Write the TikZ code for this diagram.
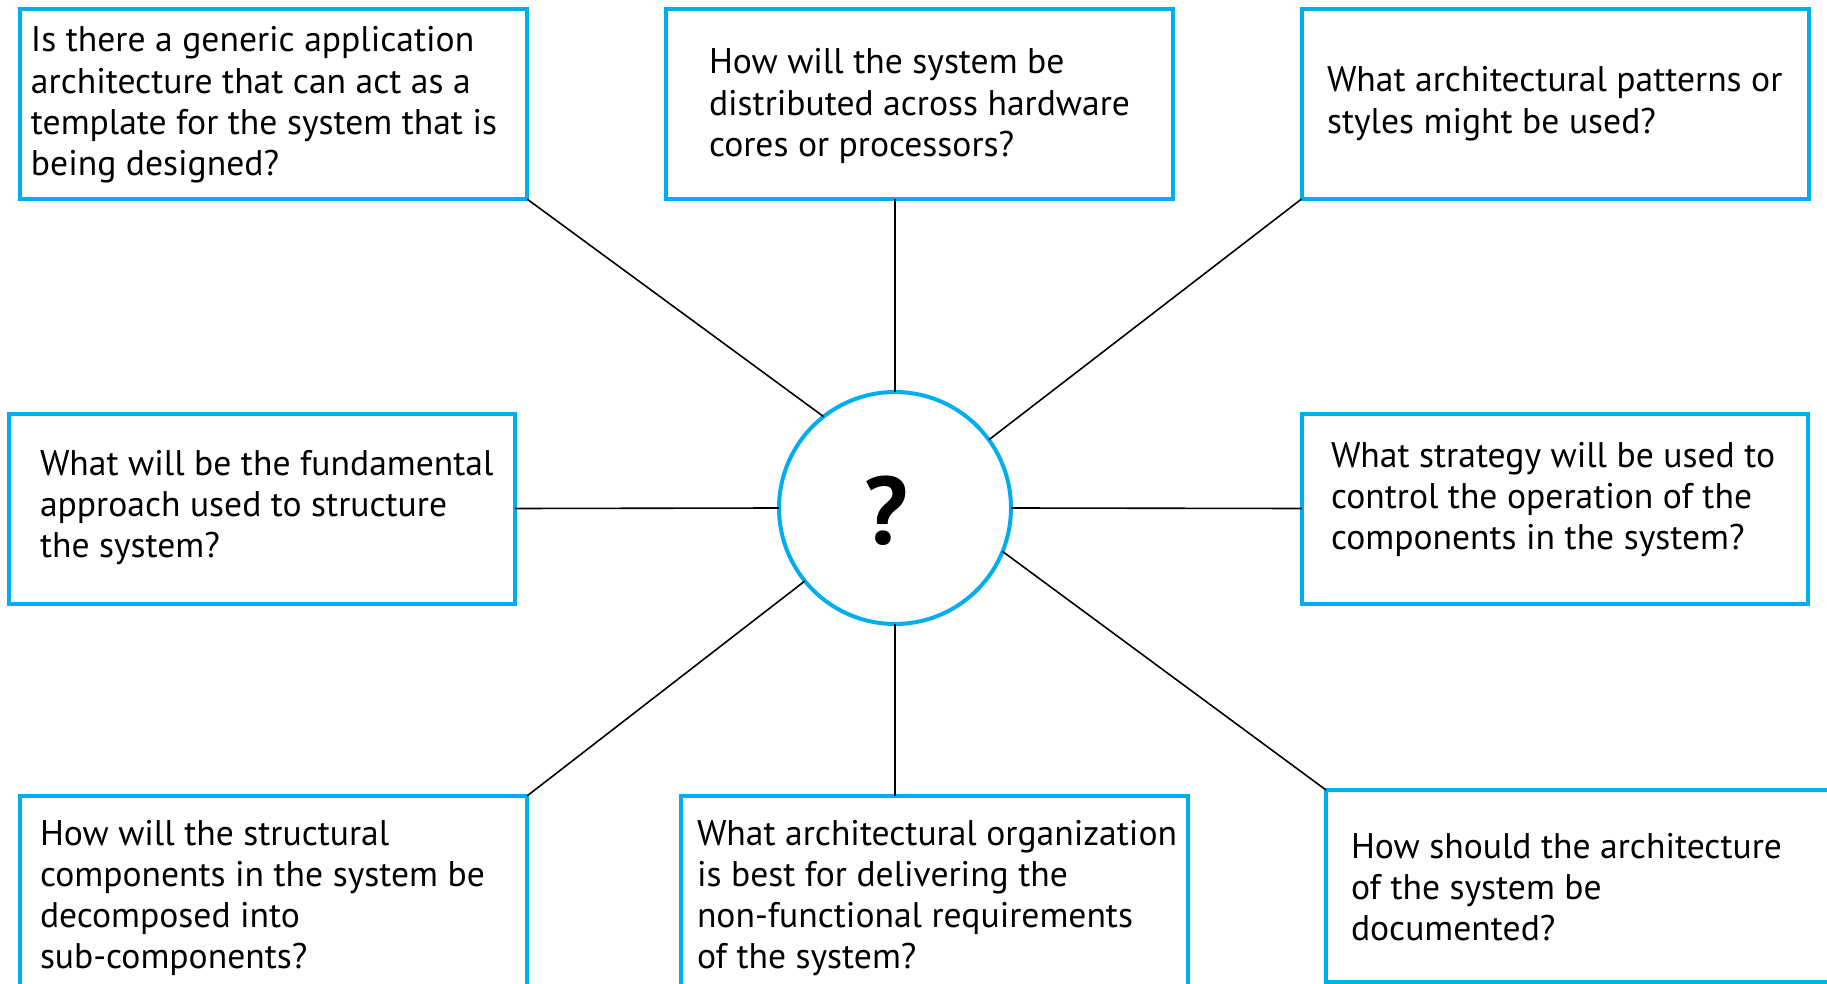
\documentclass[tikz,border=0pt]{standalone}
\usepackage{fontspec}
\setmainfont{PT Sans}
\definecolor{qcyan}{HTML}{00AEEF}
\begin{document}
\begin{tikzpicture}[x=0.5pt,y=-0.5pt,
  qbox/.style={draw=qcyan, line width=2pt, fill=white, rectangle, outer sep=0pt, inner sep=0pt},
  qtext/.style={anchor=base west, inner sep=0pt, outer sep=0pt},
  conn/.style={draw=black, line width=0.8pt}]
\useasboundingbox (0,0) rectangle (1827,984);
\newcommand{\qt}[1]{\parbox[t]{300pt}{\fontsize{17.8}{20.6}\selectfont\raggedright #1}}
% circle
\node[draw=qcyan, line width=2pt, circle, minimum size=116pt, inner sep=0pt, outer sep=0pt] (c) at (895,508) {};
\node[inner sep=0pt] (qm) at (886,511) {\fontsize{48}{48}\selectfont\bfseries ?};
% boxes
\node[qbox, minimum width=253.5pt, minimum height=95pt] (tl) at (273.5,104) {};
\node[qbox, minimum width=253.5pt, minimum height=95pt] (tc) at (919.5,104) {};
\node[qbox, minimum width=253.5pt, minimum height=95pt] (tr) at (1555,104) {};
\node[qbox, minimum width=253pt, minimum height=95pt] (ml) at (262,508.5) {};
\node[qbox, minimum width=253pt, minimum height=95pt] (mr) at (1555,508.5) {};
\node[qbox, minimum width=253.5pt, minimum height=95pt] (bl) at (273.5,891) {};
\node[qbox, minimum width=253.5pt, minimum height=95pt] (bc) at (934.5,891) {};
\node[qbox, minimum width=254pt, minimum height=96pt] (br) at (1580,886) {};
% texts
\node[qtext] (tlt) at (31,52) {\qt{Is there a generic application\\architecture that can act as a\\template for the system that is\\being designed?}};
\node[qtext] (tct) at (709,74) {\qt{How will the system be\\distributed across hardware\\cores or processors?}};
\node[qtext] (trt) at (1327,92) {\qt{What architectural patterns or\\styles might be used?}};
\node[qtext] (mlt) at (40,475) {\qt{What will be the fundamental\\approach used to structure\\the system?}};
\node[qtext] (mrt) at (1331,467) {\qt{What strategy will be used to\\control the operation of the\\components in the system?}};
\node[qtext] (blt) at (40,845) {\qt{How will the structural\\components in the system be\\decomposed into\\sub-components?}};
\node[qtext] (bct) at (697,845) {\qt{What architectural organization\\is best for delivering the\\non-functional requirements\\of the system?}};
\node[qtext] (brt) at (1351,858) {\qt{How should the architecture\\of the system be\\documented?}};
% connectors
\draw[conn] (tl.south east) -- (c.128.5);
\draw[conn] (c.north |- tc.south) -- (c.north);
\draw[conn] (tr.south west) -- (c.36);
\draw[conn] (ml.east) -- (c.west);
\draw[conn] (mr.west) -- (c.east);
\draw[conn] (bl.north east) -- (c.219.2);
\draw[conn] (c.south |- bc.north) -- (c.south);
\draw[conn] (br.north west) -- (c.-22.3);
\end{tikzpicture}
\end{document}
